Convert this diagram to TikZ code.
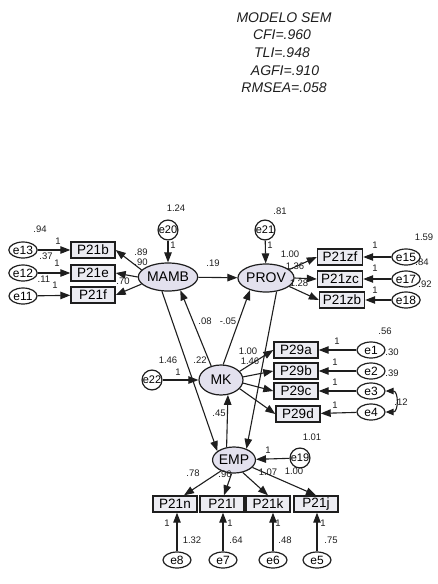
\documentclass[tikz,border=0pt]{standalone}
\usepackage{fontspec}
\setmainfont{Liberation Sans}
\usetikzlibrary{shapes.geometric,arrows.meta}
\definecolor{latfill}{HTML}{E3E1EE}
\definecolor{obsfill}{HTML}{ECECF2}
\definecolor{ink}{HTML}{1E1E1E}
\begin{document}
\begin{tikzpicture}[x=1pt,y=-1pt,
  lat/.style={ellipse,draw=ink,line width=1.2pt,fill=latfill,inner sep=0pt,
    minimum width=42pt,minimum height=28pt,font=\fontsize{14}{14}\selectfont},
  obs/.style={rectangle,draw=ink,line width=1.4pt,fill=obsfill,inner sep=0pt,
    minimum width=44pt,minimum height=16pt,font=\fontsize{13.5}{14}\selectfont},
  err/.style={ellipse,draw=ink,line width=1.2pt,fill=white,inner sep=0pt,
    minimum width=28pt,minimum height=16pt,font=\fontsize{12}{12}\selectfont},
  errc/.style={circle,draw=ink,line width=1.2pt,fill=white,inner sep=0pt,
    minimum size=19pt,font=\fontsize{11}{11}\selectfont},
  lab/.style={inner sep=0pt,text=ink,font=\fontsize{9.5}{10}\selectfont},
  ttl/.style={inner sep=0pt,text=ink,font=\fontsize{14}{14}\selectfont\itshape},
  arr/.style={draw=ink,line width=1.1pt,-{Triangle[length=10pt,width=7.5pt]}},
  darr/.style={draw=ink,line width=1.1pt,{Triangle[length=8pt,width=6.5pt]}-{Triangle[length=8pt,width=6.5pt]}},
]
\useasboundingbox (0,0) rectangle (437,584);

% title
\node[ttl] (t1) at (284,18) {MODELO SEM};
\node[ttl] (t2) at (282,35) {CFI=.960};
\node[ttl] (t3) at (282,53) {TLI=.948};
\node[ttl] (t4) at (285,71) {AGFI=.910};
\node[ttl] (t5) at (284,88) {RMSEA=.058};

% latent variables
\node[lat] (MAMB) at (168,277) {MAMB};
\node[lat] (PROV) at (266,278) {PROV};
\node[lat,minimum width=44pt,minimum height=30pt] (MK) at (221,380) {MK};
\node[lat,minimum width=38pt,minimum height=26pt] (EMP) at (234,460) {EMP};

% disturbances
\node[errc] (e20) at (168,230) {e20};
\node[errc] (e21) at (265,230) {e21};
\node[errc] (e22) at (152,380) {e22};
\node[errc] (e19) at (300,458) {e19};

% MAMB indicators
\node[obs] (P21b) at (93,250) {P21b};
\node[obs] (P21e) at (93,273) {P21e};
\node[obs] (P21f) at (93,295) {P21f};
\node[err] (e13) at (23,250) {e13};
\node[err] (e12) at (23,273) {e12};
\node[err] (e11) at (23,296) {e11};

% PROV indicators
\node[obs,minimum width=45pt] (P21zf) at (340,257) {P21zf};
\node[obs,minimum width=45pt] (P21zc) at (340,279) {P21zc};
\node[obs,minimum width=45pt] (P21zb) at (342,300) {P21zb};
\node[err] (e15) at (406,257) {e15};
\node[err] (e17) at (406,279) {e17};
\node[err] (e18) at (406,300) {e18};

% MK indicators
\node[obs] (P29a) at (296,350) {P29a};
\node[obs] (P29b) at (296,371) {P29b};
\node[obs] (P29c) at (296,391) {P29c};
\node[obs] (P29d) at (298,414) {P29d};
\node[err] (e1) at (371,350) {e1};
\node[err] (e2) at (371,371) {e2};
\node[err] (e3) at (371,391) {e3};
\node[err] (e4) at (371,412) {e4};

% EMP indicators
\node[obs] (P21n) at (175,504) {P21n};
\node[obs] (P21l) at (222,504) {P21l};
\node[obs] (P21k) at (268,504) {P21k};
\node[obs] (P21j) at (316,504) {P21j};
\node[err] (e8) at (177,560) {e8};
\node[err] (e7) at (223,560) {e7};
\node[err] (e6) at (273,560) {e6};
\node[err] (e5) at (317,560) {e5};

% error -> indicator arrows
\draw[arr] (e13) -- (P21b);
\draw[arr] (e12) -- (P21e);
\draw[arr] (e11) -- (P21f);
\draw[arr] (e15) -- (P21zf);
\draw[arr] (e17) -- (P21zc);
\draw[arr] (e18) -- (P21zb);
\draw[arr] (e1) -- (P29a);
\draw[arr] (e2) -- (P29b);
\draw[arr] (e3) -- (P29c);
\draw[arr] (e4) -- (P29d);
\draw[arr] (e8.north) -- (e8.north |- P21n.south);
\draw[arr] (e7.north) -- (e7.north |- P21l.south);
\draw[arr] (e6.north) -- (e6.north |- P21k.south);
\draw[arr] (e5.north) -- (e5.north |- P21j.south);
\draw[darr] (e3.east) to[out=0,in=0,looseness=1.6] (e4.east);

% disturbances -> latents
\draw[arr] (e20) -- (MAMB);
\draw[arr] (e21) -- (PROV);
\draw[arr] (e22) -- (MK);
\draw[arr] (e19) -- (EMP);

% loadings
\draw[arr] (MAMB.165) -- (P21b.east);
\draw[arr] (MAMB.180) -- (P21e.east);
\draw[arr] (MAMB.195) -- (P21f.east);
\draw[arr] (PROV.20) -- (P21zf.west);
\draw[arr] (PROV.0) -- (P21zc.west);
\draw[arr] (PROV.-20) -- (P21zb.west);
\draw[arr] (MK.25) -- (P29a.west);
\draw[arr] (MK.8) -- (P29b.west);
\draw[arr] (MK.-8) -- (P29c.west);
\draw[arr] (MK.-25) -- (P29d.west);
\draw[arr] (EMP.-140) -- ([xshift=9pt]P21n.north);
\draw[arr] (EMP.-100) -- ([xshift=2pt]P21l.north);
\draw[arr] (EMP.-55) -- (P21k.north);
\draw[arr] (EMP.-22) -- (P21j.north);

% structural paths
\draw[arr] (MAMB) -- (PROV);
\draw[arr] (MK.125) -- (MAMB.-47);
\draw[arr] (MK.82) -- (PROV.-143);
\draw[arr] (MAMB.-113) -- (EMP.152);
\draw[arr] (PROV.-52) -- (EMP.42);
\draw[arr] (EMP.120) -- (MK.-65);

% labels
\node[lab] (l1) at (176,208) {1.24};
\node[lab] (l2) at (173,245) {1};
\node[lab] (l3) at (213,263) {.19};
\node[lab] (l4) at (40,229) {.94};
\node[lab] (l5) at (58,241) {1};
\node[lab] (l6) at (46,256) {.37};
\node[lab] (l7) at (57,263) {1};
\node[lab] (l8) at (44,279) {.11};
\node[lab] (l9) at (55,285) {1};
\node[lab] (l10) at (141,252) {.89};
\node[lab] (l11) at (141,262) {.90};
\node[lab] (l12) at (123,281) {.70};
\node[lab] (l13) at (280,211) {.81};
\node[lab] (l14) at (270,245) {1};
\node[lab] (l15) at (290,254) {1.00};
\node[lab] (l16) at (295,266) {1.36};
\node[lab] (l17) at (299,283) {1.28};
\node[lab] (l18) at (375,245) {1};
\node[lab] (l19) at (375,268) {1};
\node[lab] (l20) at (375,290) {1};
\node[lab] (l21) at (424,237) {1.59};
\node[lab] (l22) at (422,262) {.84};
\node[lab] (l23) at (425,284) {.92};
\node[lab] (l24) at (168,360) {1.46};
\node[lab] (l25) at (178,372) {1};
\node[lab] (l26) at (200,360) {.22};
\node[lab] (l27) at (205,321) {.08};
\node[lab] (l28) at (228,321) {-.05};
\node[lab] (l29) at (248,351) {1.00};
\node[lab] (l30) at (250,361) {1.46};
\node[lab] (l31) at (219,413) {.45};
\node[lab] (l32) at (337,341) {1};
\node[lab] (l33) at (335,362) {1};
\node[lab] (l34) at (335,382) {1};
\node[lab] (l35) at (335,405) {1};
\node[lab] (l36) at (385,331) {.56};
\node[lab] (l37) at (392,352) {.30};
\node[lab] (l38) at (392,373) {.39};
\node[lab] (l39) at (401,402) {.12};
\node[lab] (l40) at (312,437) {1.01};
\node[lab] (l41) at (268,450) {1};
\node[lab] (l42) at (294,471) {1.00};
\node[lab] (l43) at (193,473) {.78};
\node[lab] (l44) at (225,474) {.96};
\node[lab] (l45) at (268,472) {1.07};
\node[lab] (l46) at (167,523) {1};
\node[lab] (l47) at (230,523) {1};
\node[lab] (l48) at (278,523) {1};
\node[lab] (l49) at (323,523) {1};
\node[lab] (l50) at (192,540) {1.32};
\node[lab] (l51) at (236,540) {.64};
\node[lab] (l52) at (285,540) {.48};
\node[lab] (l53) at (331,540) {.75};
\end{tikzpicture}
\end{document}
